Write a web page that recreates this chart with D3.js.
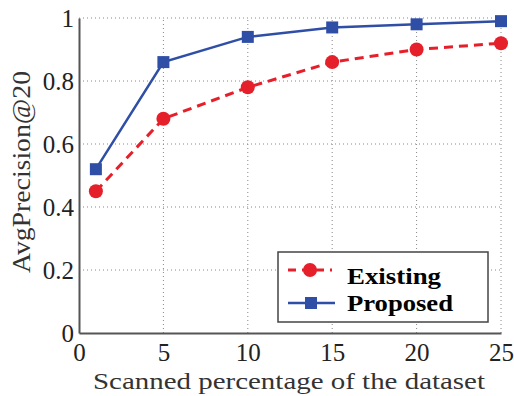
<!DOCTYPE html>
<html><head><meta charset="utf-8">
<script src="https://cdn.jsdelivr.net/npm/d3@7"></script>
<style>body{margin:0;background:#fff}</style>
</head><body>
<svg id="c" width="514" height="396"></svg>
<script>
const xValues = [1, 5, 10, 15, 20, 25];
const existing = [0.45, 0.68, 0.78, 0.86, 0.90, 0.92];
const proposed = [0.52, 0.86, 0.94, 0.97, 0.98, 0.99];
const xTicks = [0, 5, 10, 15, 20, 25];
const yTicks = [0, 0.2, 0.4, 0.6, 0.8, 1];
const yTickLabels = ["0", "0.2", "0.4", "0.6", "0.8", "1"];
const seriesNames = ["Existing", "Proposed"];

const svg = d3.select("#c");
const x = d3.scaleLinear().domain([0, 25]).range([79, 501]);
const y = d3.scaleLinear().domain([0, 1]).range([333, 18]);
const serif = "'Liberation Serif','Times New Roman',serif";

// grid
svg.append("g").selectAll("line").data(xTicks.filter(d => d > 0)).join("line")
  .attr("x1", d => x(d)).attr("x2", d => x(d)).attr("y1", y(0)).attr("y2", y(1))
  .attr("stroke", "#888").attr("stroke-width", 1).attr("stroke-dasharray", "1,3");
svg.append("g").selectAll("line").data(yTicks.filter(d => d > 0)).join("line")
  .attr("x1", x(0)).attr("x2", x(25)).attr("y1", d => y(d)).attr("y2", d => y(d))
  .attr("stroke", "#888").attr("stroke-width", 1).attr("stroke-dasharray", "1,3");

// axes
const xAxis = svg.append("g").attr("transform", `translate(0,${y(0)})`)
  .call(d3.axisBottom(x).tickValues(xTicks).tickSize(0).tickPadding(9));
const yAxis = svg.append("g").attr("transform", `translate(${x(0)},0)`)
  .call(d3.axisLeft(y).tickValues(yTicks).tickSize(0).tickPadding(5)
    .tickFormat((d, i) => yTickLabels[i]));
[xAxis, yAxis].forEach(a => {
  a.attr("font-family", null).attr("font-size", null);
  a.select(".domain").attr("stroke", "#555").attr("stroke-width", 2);
  a.selectAll("text").style("font-family", serif).style("font-size", "25px").attr("fill", "#222");
});
xAxis.selectAll("text").attr("dy", "0.75em");
yAxis.selectAll("text").attr("dy", "0.33em");

// titles
svg.append("text").attr("x", x(12.5) - 1).attr("y", 389).attr("text-anchor", "middle")
  .style("font-family", serif).style("font-size", "24px").attr("fill", "#333")
  .attr("textLength", 392).attr("lengthAdjust", "spacingAndGlyphs")
  .text("Scanned percentage of the dataset");
svg.append("text").attr("transform", `translate(30,172) rotate(-90)`)
  .attr("text-anchor", "middle").style("font-family", serif).style("font-size", "25px").attr("fill", "#333")
  .attr("textLength", 202).attr("lengthAdjust", "spacingAndGlyphs")
  .text("AvgPrecision@20");

const red = "#e5202b", blue = "#2f4ea6";
const line = d3.line().x((d, i) => x(xValues[i])).y(d => y(d));

// existing
svg.append("path").datum(existing).attr("d", line).attr("fill", "none")
  .attr("stroke", red).attr("stroke-width", 3).attr("stroke-dasharray", "9,6");
svg.append("g").selectAll("circle").data(existing).join("circle")
  .attr("cx", (d, i) => x(xValues[i])).attr("cy", d => y(d)).attr("r", 7).attr("fill", red);

// proposed
svg.append("path").datum(proposed).attr("d", line).attr("fill", "none")
  .attr("stroke", blue).attr("stroke-width", 2.5);
svg.append("g").selectAll("rect").data(proposed).join("rect")
  .attr("x", (d, i) => x(xValues[i]) - 6).attr("y", d => y(d) - 6)
  .attr("width", 12).attr("height", 12).attr("fill", blue);

// legend
const lg = svg.append("g");
lg.append("rect").attr("x", 278).attr("y", 252).attr("width", 210).attr("height", 70)
  .attr("fill", "#fff").attr("stroke", "#444").attr("stroke-width", 1.5);
const ly = [270, 303];
lg.append("line").attr("x1", 288).attr("x2", 332).attr("y1", ly[0]).attr("y2", ly[0])
  .attr("stroke", red).attr("stroke-width", 3).attr("stroke-dasharray", "8,6");
lg.append("circle").attr("cx", 310).attr("cy", ly[0]).attr("r", 7).attr("fill", red);
lg.append("line").attr("x1", 288).attr("x2", 335).attr("y1", ly[1]).attr("y2", ly[1])
  .attr("stroke", blue).attr("stroke-width", 2.5);
lg.append("rect").attr("x", 305).attr("y", ly[1] - 6).attr("width", 12).attr("height", 12).attr("fill", blue);
const baselines = [284, 311];
const legendWidths = [94, 106];
seriesNames.forEach((n, i) => {
  lg.append("text").attr("x", 347).attr("y", baselines[i])
    .style("font-family", serif).style("font-weight", "bold").style("font-size", "24px").attr("fill", "#000")
    .attr("textLength", legendWidths[i]).attr("lengthAdjust", "spacingAndGlyphs")
    .text(n);
});
</script>
</body></html>
